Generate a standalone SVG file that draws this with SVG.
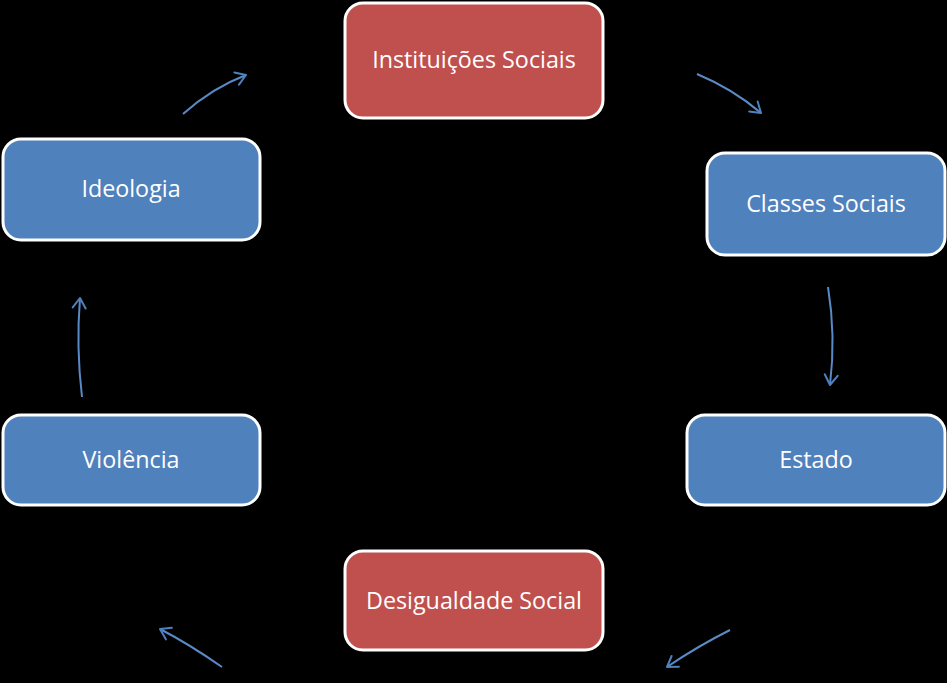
<svg xmlns="http://www.w3.org/2000/svg" width="947" height="683" viewBox="0 0 947 683">
<defs>
<marker id="ah" markerWidth="16" markerHeight="16" refX="12" refY="8" orient="auto" markerUnits="userSpaceOnUse">
<path d="M2,1.5 L12,8 L2,14.5" fill="none" stroke="#4F81BD" stroke-width="2" stroke-linecap="round" stroke-linejoin="round"/>
</marker>
<style>
.box{stroke:#FFFFFF;stroke-width:3}
.red{fill:#C0504D}
.blue{fill:#4F81BD}
.lbl{fill:#FFFFFF;font-family:"Open Sans","Noto Sans","Liberation Sans",sans-serif;font-size:23.3px;text-anchor:middle;dominant-baseline:central}
.con{fill:none;stroke:#5A8AC6;stroke-width:2;marker-end:url(#ah)}
</style>
</defs>
<rect width="947" height="683" fill="#000000"/>
<g id="instituicoes">
<rect class="box red" x="345" y="3" width="258" height="115" rx="18"/>
<text class="lbl" x="474" y="59">Instituições Sociais</text>
</g>
<g id="classes">
<rect class="box blue" x="707" y="153" width="238" height="102" rx="18"/>
<text class="lbl" x="826" y="203">Classes Sociais</text>
</g>
<g id="estado">
<rect class="box blue" x="687" y="415" width="258" height="90" rx="18"/>
<text class="lbl" x="816" y="459">Estado</text>
</g>
<g id="desigualdade">
<rect class="box red" x="345" y="551" width="258" height="99" rx="18"/>
<text class="lbl" x="474" y="600">Desigualdade Social</text>
</g>
<g id="violencia">
<rect class="box blue" x="3" y="415" width="257" height="90" rx="18"/>
<text class="lbl" x="131" y="459">Violência</text>
</g>
<g id="ideologia">
<rect class="box blue" x="3" y="139" width="257" height="101" rx="18"/>
<text class="lbl" x="131" y="188">Ideologia</text>
</g>
<g id="connectors">
<path class="con" d="M183,114 Q212,88 246,75"/>
<path class="con" d="M697,74 Q733,89 761,113"/>
<path class="con" d="M828,287 Q836,336 830,385"/>
<path class="con" d="M730,630 Q698,646 667,667"/>
<path class="con" d="M222,667 Q189,644 160,629"/>
<path class="con" d="M82,397 Q76,347 80,298"/>
</g>
</svg>
